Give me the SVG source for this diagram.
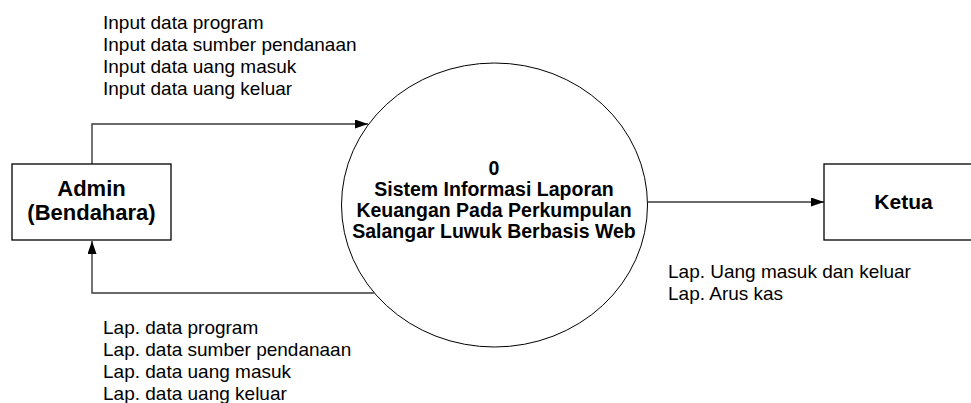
<svg xmlns="http://www.w3.org/2000/svg" width="971" height="403" viewBox="0 0 971 403">
  <style>
    .box { fill: #ffffff; stroke: #000000; stroke-width: 1.3; }
    .proc { fill: #ffffff; stroke: #000000; stroke-width: 1; }
    .flow { fill: none; stroke: #3a3a3a; stroke-width: 1.4; }
    .lbl { font-family: "Liberation Sans", Arial, sans-serif; font-size: 19px; fill: #000000; }
    .ent { font-family: "Liberation Sans", Arial, sans-serif; font-size: 21px; font-weight: bold; fill: #000000; text-anchor: middle; }
    .ent2 { font-size: 22px; }
    .ptx { font-family: "Liberation Sans", Arial, sans-serif; font-size: 19.5px; font-weight: bold; fill: #000000; text-anchor: middle; }
  </style>
  <defs>
    <marker id="arrow" markerUnits="userSpaceOnUse" markerWidth="13" markerHeight="9" refX="13" refY="4.5" orient="auto">
      <path d="M0,0 L13,4.5 L0,9 Z" fill="#000000"/>
    </marker>
  </defs>
  <rect width="971" height="403" fill="#ffffff"/>

  <g id="connectors">
    <path class="flow" d="M92,164 V124 H368" marker-end="url(#arrow)"/>
    <path class="flow" d="M374,293 H92 V241" marker-end="url(#arrow)"/>
    <path class="flow" d="M648,202 H824" marker-end="url(#arrow)"/>
  </g>

  <g id="process0">
    <ellipse class="proc" cx="494.5" cy="205" rx="153" ry="142"/>
    <text class="ptx" x="494" y="175">0</text>
    <text class="ptx" x="494" y="196">Sistem Informasi Laporan</text>
    <text class="ptx" x="494" y="217">Keuangan Pada Perkumpulan</text>
    <text class="ptx" x="494" y="238">Salangar Luwuk Berbasis Web</text>
  </g>

  <g id="admin">
    <rect class="box" x="12" y="164" width="159" height="76"/>
    <text class="ent ent2" x="91.5" y="196">Admin</text>
    <text class="ent ent2" x="91.5" y="220">(Bendahara)</text>
  </g>

  <g id="ketua">
    <rect class="box" x="824" y="164" width="159" height="76"/>
    <text class="ent" x="903.5" y="209">Ketua</text>
  </g>

  <g id="label-input">
    <text class="lbl" x="103" y="28.5">Input data program</text>
    <text class="lbl" x="103" y="50.5">Input data sumber pendanaan</text>
    <text class="lbl" x="103" y="72.5">Input data uang masuk</text>
    <text class="lbl" x="103" y="94.5">Input data uang keluar</text>
  </g>

  <g id="label-lap-admin">
    <text class="lbl" x="103" y="334">Lap. data program</text>
    <text class="lbl" x="103" y="356">Lap. data sumber pendanaan</text>
    <text class="lbl" x="103" y="378">Lap. data uang masuk</text>
    <text class="lbl" x="103" y="400">Lap. data uang keluar</text>
  </g>

  <g id="label-lap-ketua">
    <text class="lbl" x="668" y="278">Lap. Uang masuk dan keluar</text>
    <text class="lbl" x="668" y="300">Lap. Arus kas</text>
  </g>
</svg>
